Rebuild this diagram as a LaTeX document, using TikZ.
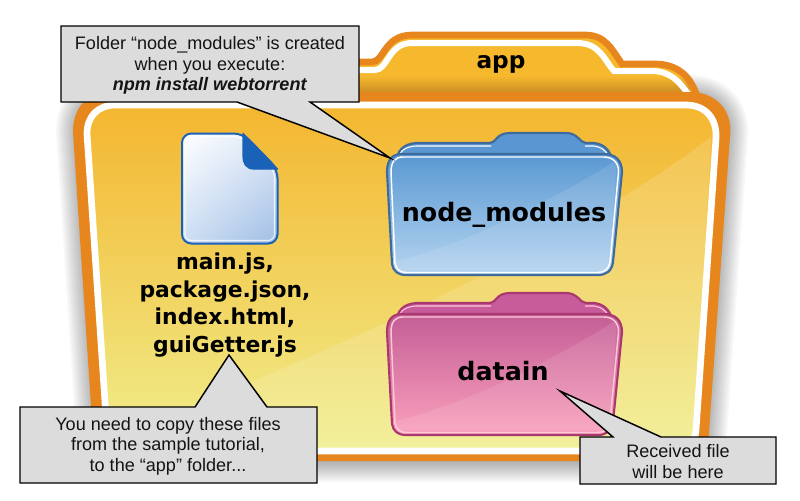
\documentclass[tikz,border=0pt]{standalone}
\usepackage{fontspec}
\usetikzlibrary{shadings}
\setmainfont{Liberation Sans}
\newfontfamily\labelfont{DejaVu Sans}
\definecolor{foldorange}{HTML}{E8861E}
\definecolor{calloutfill}{HTML}{DCDCDC}
\definecolor{calloutink}{HTML}{141414}
\definecolor{backtop}{RGB}{246,184,44}
\definecolor{backlow}{RGB}{196,132,36}
\definecolor{fronttop}{RGB}{244,182,48}
\definecolor{frontmid}{RGB}{245,208,82}
\definecolor{frontlow}{RGB}{240,238,140}
\definecolor{filetr}{RGB}{222,232,247}
\definecolor{filebl}{RGB}{205,222,243}
\definecolor{filebr}{RGB}{160,190,229}
\definecolor{fileink}{RGB}{26,98,184}
\definecolor{bluestroke}{RGB}{62,106,156}
\definecolor{blueback}{RGB}{90,150,210}
\definecolor{bluetop}{RGB}{90,152,210}
\definecolor{bluemid}{RGB}{128,177,225}
\definecolor{bluelow}{RGB}{182,213,240}
\definecolor{pinkstroke}{RGB}{168,56,110}
\definecolor{pinkback}{RGB}{200,92,155}
\definecolor{pinktop}{RGB}{196,94,150}
\definecolor{pinkmid}{RGB}{251,122,165}
\definecolor{pinklow}{RGB}{250,160,188}
\definecolor{pinkline}{RGB}{252,200,215}
\tikzset{
  calloutshape/.style={draw=black,line width=1.1pt,fill=calloutfill,line join=miter},
  callouttext/.style={align=center,font=\fontsize{13.55}{15.4}\selectfont,text=calloutink,inner sep=0pt},
  foldertext/.style={align=center,inner sep=0pt,text=black},
  biglabel/.style={foldertext,font=\labelfont\bfseries\fontsize{19}{21}\selectfont},
  filelabeltext/.style={foldertext,font=\labelfont\bfseries\fontsize{16.4}{20.8}\selectfont},
  applabeltext/.style={foldertext,font=\labelfont\bfseries\fontsize{17.4}{21}\selectfont},
}
% #1 stroke  #2 back fill  #3 back light  #4 front top  #5 front middle  #6 front bottom  #7 inner line
\newcommand{\minifolder}[7]{
  \path[draw=#1,line width=1.6pt,fill=#2]
    (396,165) .. controls (396,150) and (404,144) .. (416,143)
    -- (490,143) .. controls (496,143) and (496,133) .. (510,133)
    -- (566,133) .. controls (578,133) and (580,143) .. (586,143)
    -- (594,143) .. controls (604,144) and (609,150) .. (612,158) -- (612,170) -- (396,170) -- cycle;
  \path[draw=#3,line width=.8pt]
    (400,154) .. controls (402,149) and (408,146.5) .. (416,146)
    -- (491,146) (585,146) -- (594,146) .. controls (601,147) and (605,150) .. (608,155);
  \path[shade,top color=#4,middle color=#5,bottom color=#6,draw=#1,line width=1.6pt]
    (387,172) .. controls (387,160) and (392,154) .. (402,154)
    -- (604,154) .. controls (615,154) and (622,160) .. (622,172)
    -- (613,262) .. controls (612,271) and (606,275) .. (598,275)
    -- (406,275) .. controls (398,275) and (393,271) .. (392,264) -- cycle;
  \path[draw=#7,line width=1.1pt]
    (391,172) .. controls (391,162) and (395,157) .. (403,157)
    -- (604,157) .. controls (613,157) and (619,163) .. (618.5,172)
    -- (610,262) .. controls (609,269) and (604,272.5) .. (598,272.5)
    -- (406,272.5) .. controls (400,272.5) and (396,269) .. (395,263) -- cycle;
  \begin{scope}
    \clip (392,159) -- (617,159) -- (609,270) -- (396,270) -- cycle;
    \fill[white,opacity=.10] (617,160) .. controls (560,195) and (480,240) .. (392,262)
      -- (392,275) -- (620,275) -- cycle;
  \end{scope}
}
\begin{document}
\begin{tikzpicture}[x=.75pt,y=-.75pt]
\useasboundingbox (0,0) rectangle (800,500);
\fill[white] (0,0) rectangle (800,500);
% soft shadow
\foreach \w in {4,8,...,44}{
  \draw[black,opacity=.03,line width=\w*.75pt,line join=round]
    (78,132) .. controls (78,110) and (90,97) .. (112,97)
    -- (690,97) .. controls (712,97) and (728,112) .. (726,136)
    -- (705,432) .. controls (704,448) and (694,460) .. (680,460)
    -- (122,460) .. controls (108,460) and (99,450) .. (98,436) -- cycle;
}
% back folder
\fill[backtop]
    (120,100) -- (120,62) -- (372,62)
    .. controls (384,62) and (384,35) .. (412,35)
    -- (585,35) .. controls (606,35) and (612,50) .. (622,64)
    -- (655,64) .. controls (677,64) and (692,76) .. (698,100) -- cycle;
\begin{scope}
  \clip (120,100) -- (120,62) -- (698,62) -- (698,100) -- cycle;
  \shade[top color=backtop,bottom color=backlow] (120,76) rectangle (690,96);
\end{scope}
\draw[foldorange,line width=5pt]
    (120,100) -- (120,62) -- (372,62)
    .. controls (384,62) and (384,35) .. (412,35)
    -- (585,35) .. controls (606,35) and (612,50) .. (622,64)
    -- (655,64) .. controls (677,64) and (692,76) .. (698,100);
\draw[white,line width=4.5pt]
    (120,70) -- (375,70)
    .. controls (388,70) and (388,43) .. (412,43)
    -- (577,43) .. controls (600,43) and (604,60) .. (614,71)
    -- (652,71) .. controls (670,71) and (680,82) .. (688,94);
% front folder
\draw[foldorange,line width=7.5pt,line join=round,fill=foldorange]
    (78,132) .. controls (78,110) and (90,97) .. (112,97)
    -- (690,97) .. controls (712,97) and (728,112) .. (725,136)
    -- (704,432) .. controls (703,448) and (694,456) .. (680,456)
    -- (122,456) .. controls (108,456) and (99,450) .. (98,436) -- cycle;
\path[shade,top color=fronttop,middle color=frontmid,bottom color=frontlow,
      draw=white,line width=5pt,line join=round]
    (87,134) .. controls (87,116) and (98,105) .. (116,105)
    -- (686,105) .. controls (705,105) and (717,118) .. (716,138)
    -- (696,430) .. controls (695,443) and (688,451) .. (676,451)
    -- (126,451) .. controls (114,451) and (108,444) .. (107,432) -- cycle;
\begin{scope}
  \clip (90,108) -- (713,108) -- (693,448) -- (110,448) -- cycle;
  \fill[white,opacity=.14] (713,135) .. controls (620,210) and (380,340) .. (100,440)
      -- (100,460) -- (720,460) -- cycle;
\end{scope}
% file icon
\shade[upper left=white,upper right=filetr,lower left=filebl,lower right=filebr,
       draw=fileink,line width=1.5pt,rounded corners=7pt]
    (182,133.5) -- (243,133.5) -- (277.5,169) -- (277.5,243.5) -- (182,243.5) -- cycle;
\draw[white,opacity=.75,line width=.8pt,rounded corners=5pt]
    (185,136.5) -- (241,136.5) -- (274.5,171) -- (274.5,240.5) -- (185,240.5) -- cycle;
\path[fill=fileink,draw=fileink,line width=1pt,line join=round]
    (243,133.5) -- (277.5,169) -- (254,169) .. controls (246,169) and (243,163) .. (243,156) -- cycle;
% mini folders
\minifolder{bluestroke}{blueback}{white}{bluetop}{bluemid}{bluelow}{white}
\begin{scope}[shift={(0,160)}]
\minifolder{pinkstroke}{pinkback}{pinkline}{pinktop}{pinkmid}{pinklow}{pinkline}
\end{scope}
% folder labels
\node[applabeltext] (applabel) at (501,64.5) {app};
\node[biglabel] (nodelabel) at (504,214.5) {node\_modules};
\node[biglabel] (datalabel) at (503,371) {datain};
\node[filelabeltext] (filelabel) at (225,305) {main.js,\\package.json,\\index.html,\\guiGetter.js};
% callouts
\draw[calloutshape] (61,26) -- (359,26) -- (359,102) -- (310,102) -- (390,158) -- (237,102) -- (61,102) -- cycle;
\node[callouttext] (calloutone) at (210,65.5) {Folder “node\_modules” is created\\when you execute:\\\textbf{\textit{npm install webtorrent}}};
\draw[calloutshape] (20,407) -- (195,407) -- (229,355) -- (267,407) -- (317,407) -- (317,483) -- (20,483) -- cycle;
\node[callouttext] (callouttwo) at (168,446) {You need to copy these files\\from the sample tutorial,\\to the “app” folder...};
\draw[calloutshape] (580,437) -- (613,437) -- (560,391) -- (661,437) -- (776,437) -- (776,484) -- (580,484) -- cycle;
\node[callouttext] (calloutthree) at (678,461.5) {Received file\\will be here};
\end{tikzpicture}
\end{document}
